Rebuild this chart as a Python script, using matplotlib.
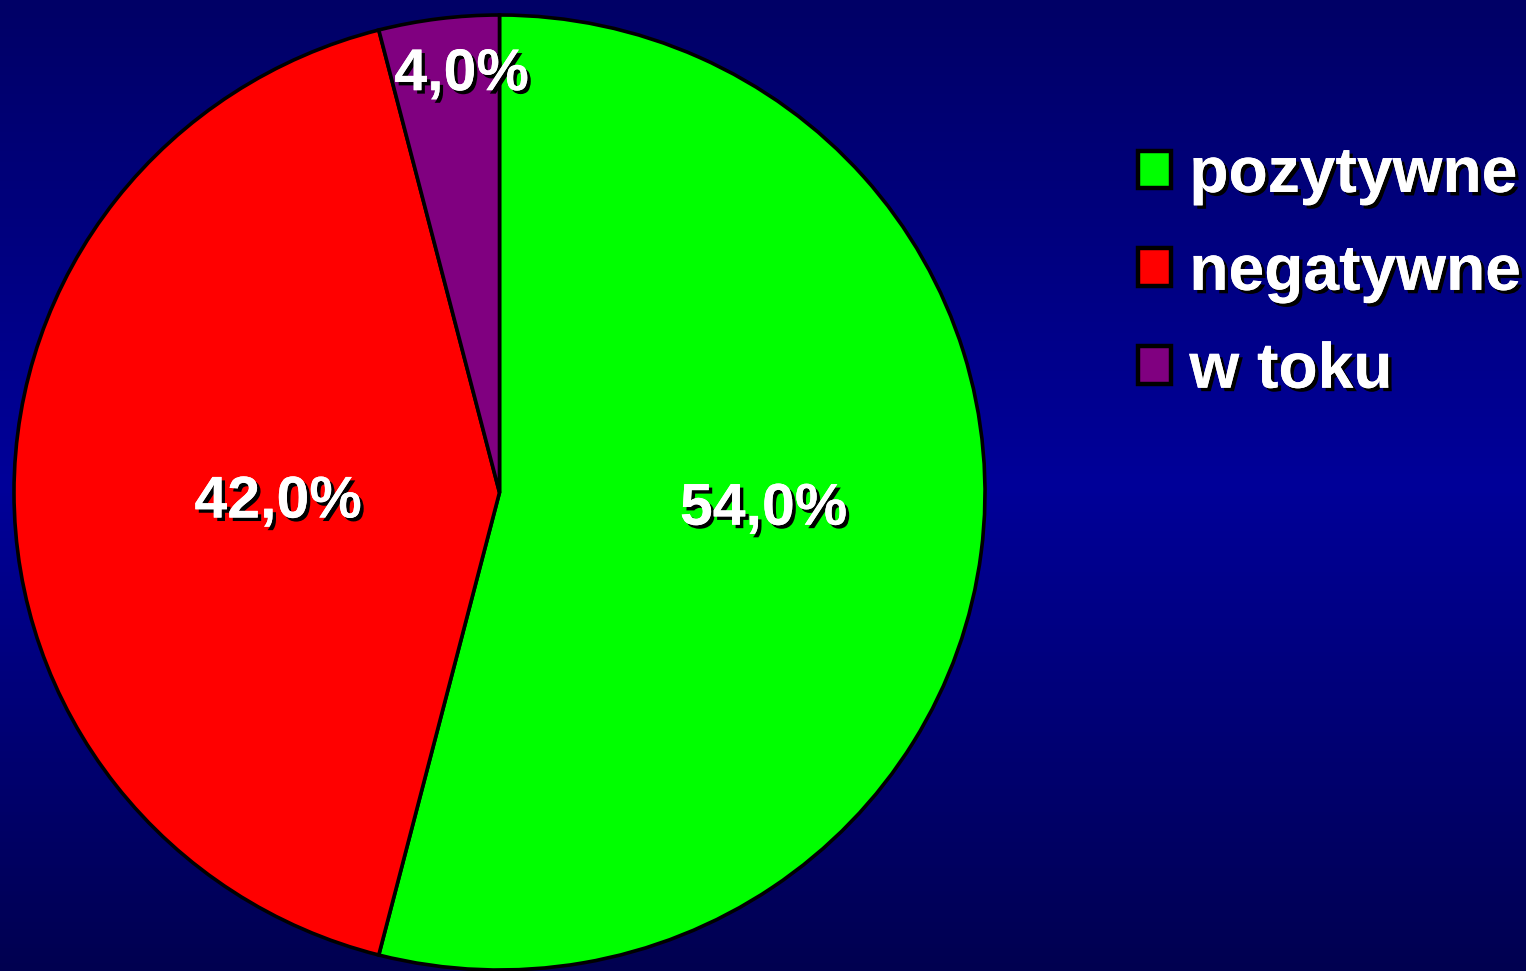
import numpy as np
import matplotlib
matplotlib.use("Agg")
import matplotlib.pyplot as plt
import matplotlib.patheffects as pe
from matplotlib.colors import LinearSegmentedColormap

labels = ["pozytywne", "negatywne", "w toku"]
values = [54.0, 42.0, 4.0]
colors = ["#00ff00", "#ff0000", "#800080"]

W, H = 1526, 971
fig = plt.figure(figsize=(W / 100, H / 100), dpi=100)

# background gradient
bg = fig.add_axes([0, 0, 1, 1])
cmap = LinearSegmentedColormap.from_list("bgc", [(0, "#000066"), (0.5, "#000099"), (1, "#000050")])
grad = np.linspace(0, 1, 256).reshape(-1, 1)
bg.imshow(grad, aspect="auto", cmap=cmap, extent=[0, 1, 0, 1], origin="upper")
bg.set_axis_off()

# pie axes
x0, x1, y0, y1 = 14, 985, 15, 970
ax = fig.add_axes([x0 / W, (H - y1) / H, (x1 - x0) / W, (y1 - y0) / H])
wedges, _ = ax.pie(values, colors=colors, startangle=90, counterclock=False,
                   wedgeprops=dict(edgecolor="black", linewidth=2.6))
ax.set_aspect("auto")
ax.set_xlim(-1, 1)
ax.set_ylim(-1, 1)
ax.set_axis_off()

shadow = [pe.withSimplePatchShadow(offset=(2.5, -2.5), shadow_rgbFace="black", alpha=1.0), pe.Normal()]
label_pos = [(0.544, -0.035), (-0.456, -0.02), (-0.078, 0.875)]
for v, (lx, ly) in zip(values, label_pos):
    ax.text(lx, ly, f"{v:.1f}%".replace(".", ","), ha="center", va="center",
            fontsize=42.5, fontweight="bold", family="Liberation Sans", color="white",
            path_effects=shadow)

leg = fig.legend(wedges, labels, loc="upper left", bbox_to_anchor=(1138 / W, 1 - 145 / H),
                 frameon=False, prop=dict(family="Liberation Sans", weight="bold", size=46.2),
                 handlelength=0.52, handleheight=0.52, handletextpad=0.28, labelspacing=0.59,
                 borderpad=0, borderaxespad=0)
for h in leg.legend_handles:
    h.set_linewidth(3.2)
for t in leg.get_texts():
    t.set_color("white")
    t.set_path_effects(shadow)

fig.savefig("out.png", dpi=100)
